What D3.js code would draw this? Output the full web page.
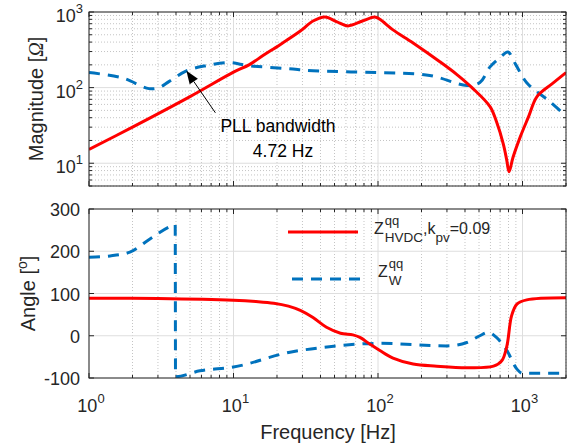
<!DOCTYPE html>
<html>
<head>
<meta charset="utf-8">
<script src="https://cdn.jsdelivr.net/npm/d3@7"></script>
<style>
  body { margin: 0; background: #fff; }
  text { font-family: "Liberation Sans", Arial, sans-serif; fill: #262626; }
</style>
</head>
<body>
<svg id="chart" width="568" height="447"></svg>
<script>
// ---- data ----
// magnitude, HVDC (red)
const magFreqHvdc = [1, 2, 5, 10, 12.8, 16, 21, 29, 35.5, 43, 52, 62, 78, 95, 103, 127, 175, 268, 350, 447, 596, 662, 736, 778, 807, 860, 962, 1100, 1260, 1600, 2000];
const magHvdc     = [15.2, 30, 76, 160, 200, 265, 370, 560, 760, 860, 740, 655, 760, 860, 800, 580, 390, 220, 150, 100, 56, 35, 18, 11, 7.7, 12, 22, 41, 76, 112, 158];
// magnitude, wind (blue dashed)
const magFreqW = [1, 1.69, 2.6, 3.05, 3.57, 4.72, 6.45, 9.3, 12.8, 24, 35.5, 98, 228, 412, 507, 596, 700, 793, 900, 1070, 1550, 2000];
const magW     = [158, 135, 97, 100, 120, 167, 195, 214, 195, 178, 167, 158, 145, 107, 117, 188, 250, 295, 200, 116, 65, 42];
// angle, HVDC (red)
const angFreqHvdc = [1, 3, 10, 14.3, 19, 24, 29, 35.5, 44, 55, 67, 75, 88, 103, 127, 175, 255, 412, 630, 720, 780, 840, 915, 1070, 2000];
const angHvdc     = [89, 88, 84, 81, 77, 70, 60, 43, 20, 6, 2, -4, -20, -35, -53, -67, -72, -75.6, -72, -59, -24, 47, 75, 85, 90];
// angle, wind (blue dashed)
const angFreqW = [1, 1.4, 1.92, 2.64, 3.73, 3.95, 3.97, 5.85, 10, 24.6, 46, 103, 300, 412, 507, 575, 660, 780, 915, 1000, 2000];
const angW     = [186, 189, 198, 229, 260, 263, -97, -83, -74, -39, -26, -18, -24, -16, 0, 8, -4, -35, -79, -89, -89];

const xTickExp = [0, 1, 2, 3];
const magTickExp = [1, 2, 3];
const angTicks = [-100, 0, 100, 200, 300];
const pllFreq = 4.72, pllMag = 167;

// ---- layout ----
const svg = d3.select("#chart");
const left = 89, right = 566;
const top1 = 12, bot1 = 186, top2 = 209, bot2 = 378;
const red = "#ff0000", blue = "#0072bd";

const x = d3.scaleLog().domain([1, 2000]).range([left, right]);
const yMag = d3.scaleLog().domain([5, 1000]).range([bot1, top1]);
const yAng = d3.scaleLinear().domain([-100, 300]).range([bot2, top2]);

const xMajor = xTickExp.map(e => Math.pow(10, e));
const xMinor = [];
[1, 10, 100, 1000].forEach(d => { for (let m = 2; m <= 9; m++) if (d * m <= 2000) xMinor.push(d * m); });
const magMinor = [];
[1, 10, 100].forEach(d => { for (let m = 2; m <= 9; m++) if (d * m >= 5) magMinor.push(d * m); });

function drawPanel(y, top, bot, yMajorVals, yMinorVals, id) {
  const g = svg.append("g");
  // minor grid
  g.selectAll(null).data(xMinor).join("line")
    .attr("x1", d => x(d)).attr("x2", d => x(d)).attr("y1", top).attr("y2", bot)
    .attr("stroke", "#c4c4c4").attr("stroke-dasharray", "1,2");
  g.selectAll(null).data(yMinorVals).join("line")
    .attr("x1", left).attr("x2", right).attr("y1", d => y(d)).attr("y2", d => y(d))
    .attr("stroke", "#c4c4c4").attr("stroke-dasharray", "1,2");
  // major grid
  g.selectAll(null).data(xMajor).join("line")
    .attr("x1", d => x(d)).attr("x2", d => x(d)).attr("y1", top).attr("y2", bot)
    .attr("stroke", "#dedede");
  g.selectAll(null).data(yMajorVals).join("line")
    .attr("x1", left).attr("x2", right).attr("y1", d => y(d)).attr("y2", d => y(d))
    .attr("stroke", "#dedede");
  // ticks, inward, all four sides
  const tk = g.append("g").attr("stroke", "#262626");
  xMajor.forEach(d => {
    tk.append("line").attr("x1", x(d)).attr("x2", x(d)).attr("y1", bot).attr("y2", bot - 5);
    tk.append("line").attr("x1", x(d)).attr("x2", x(d)).attr("y1", top).attr("y2", top + 5);
  });
  xMinor.forEach(d => {
    tk.append("line").attr("x1", x(d)).attr("x2", x(d)).attr("y1", bot).attr("y2", bot - 3);
    tk.append("line").attr("x1", x(d)).attr("x2", x(d)).attr("y1", top).attr("y2", top + 3);
  });
  yMajorVals.forEach(d => {
    tk.append("line").attr("x1", left).attr("x2", left + 5).attr("y1", y(d)).attr("y2", y(d));
    tk.append("line").attr("x1", right).attr("x2", right - 5).attr("y1", y(d)).attr("y2", y(d));
  });
  yMinorVals.forEach(d => {
    tk.append("line").attr("x1", left).attr("x2", left + 3).attr("y1", y(d)).attr("y2", y(d));
    tk.append("line").attr("x1", right).attr("x2", right - 3).attr("y1", y(d)).attr("y2", y(d));
  });
  // clip for curves
  svg.append("clipPath").attr("id", id).append("rect")
    .attr("x", left).attr("y", top).attr("width", right - left).attr("height", bot - top);
  return g;
}

function drawBox(top, bot) {
  svg.append("rect").attr("x", left).attr("y", top).attr("width", right - left).attr("height", bot - top)
    .attr("fill", "none").attr("stroke", "#262626").attr("stroke-width", 1);
}

function curve(freqs, vals, y, color, dashed, clip, crv) {
  const pts = freqs.map((f, i) => [x(f), y(vals[i])]);
  svg.append("path")
    .attr("clip-path", `url(#${clip})`)
    .attr("d", d3.line().curve(crv || d3.curveCatmullRom.alpha(0.5))(pts))
    .attr("fill", "none").attr("stroke", color).attr("stroke-width", 3)
    .attr("stroke-dasharray", dashed ? "11,8" : null);
}

// ---- top: magnitude ----
drawPanel(yMag, top1, bot1, magTickExp.map(e => Math.pow(10, e)), magMinor, "clipMag");
curve(magFreqW, magW, yMag, blue, true, "clipMag");
curve(magFreqHvdc, magHvdc, yMag, red, false, "clipMag");
drawBox(top1, bot1);

magTickExp.forEach(e => {
  const t = svg.append("text").attr("x", 83).attr("y", yMag(Math.pow(10, e)) + 10)
    .attr("text-anchor", "end").style("font-size", "18px");
  t.append("tspan").text("10");
  t.append("tspan").attr("dy", -9).style("font-size", "13px").text(e);
});

const ml = svg.append("text").attr("transform", `translate(43,${(top1 + bot1) / 2}) rotate(-90)`)
  .attr("text-anchor", "middle").style("font-size", "20px");
ml.append("tspan").text("Magnitude [");
ml.append("tspan").style("font-family", "'Liberation Serif', serif").style("font-style", "italic").text("Ω");
ml.append("tspan").text("]");

// PLL annotation
const tipX = x(pllFreq), tipY = yMag(pllMag);
const tailX = tipX + 29, tailY = tipY + 42;
const ang = Math.atan2(tipY - tailY, tipX - tailX);
const hl = 13, hw = 5;
const bx = tipX - hl * Math.cos(ang), by = tipY - hl * Math.sin(ang);
svg.append("line").attr("x1", tailX).attr("y1", tailY).attr("x2", bx).attr("y2", by)
  .attr("stroke", "#000").attr("stroke-width", 1);
svg.append("path")
  .attr("d", `M${tipX},${tipY}L${bx + hw * Math.sin(ang)},${by - hw * Math.cos(ang)}L${bx - hw * Math.sin(ang)},${by + hw * Math.cos(ang)}Z`)
  .attr("fill", "#000");
svg.append("text").attr("x", 278).attr("y", 132).attr("text-anchor", "middle")
  .style("font-size", "17.5px").style("fill", "#000").text("PLL bandwidth");
svg.append("text").attr("x", 283).attr("y", 157).attr("text-anchor", "middle")
  .style("font-size", "17.5px").style("fill", "#000").text(pllFreq + " Hz");

// ---- bottom: angle ----
drawPanel(yAng, top2, bot2, angTicks, [], "clipAng");
curve(angFreqW, angW, yAng, blue, true, "clipAng", d3.curveMonotoneX);
curve(angFreqHvdc, angHvdc, yAng, red, false, "clipAng");
drawBox(top2, bot2);

angTicks.forEach(v => {
  svg.append("text").attr("x", 80).attr("y", yAng(v) + 7).attr("text-anchor", "end")
    .style("font-size", "18px").text(v);
});
xTickExp.forEach(e => {
  const t = svg.append("text").attr("x", x(Math.pow(10, e)) + 2).attr("y", 412)
    .attr("text-anchor", "middle").style("font-size", "18px");
  t.append("tspan").text("10");
  t.append("tspan").attr("dy", -9).style("font-size", "13px").text(e);
});

const al = svg.append("text").attr("transform", `translate(35,${(top2 + bot2) / 2}) rotate(-90)`)
  .attr("text-anchor", "middle").style("font-size", "20px");
al.append("tspan").text("Angle [");
al.append("tspan").attr("dy", -8).style("font-size", "14px").text("o");
al.append("tspan").attr("dy", 8).text("]");

svg.append("text").attr("x", 328).attr("y", 439).attr("text-anchor", "middle")
  .style("font-size", "20px").text("Frequency [Hz]");

// ---- legend ----
function texPiece(x0, y0, str, size, dy) {
  const t = svg.append("text").attr("x", x0).attr("y", y0 + dy).style("font-size", size + "px").text(str);
  return t.node().getComputedTextLength();
}
svg.append("line").attr("x1", 288).attr("x2", 358).attr("y1", 232).attr("y2", 232)
  .attr("stroke", red).attr("stroke-width", 3);
svg.append("line").attr("x1", 292).attr("x2", 362).attr("y1", 279).attr("y2", 279)
  .attr("stroke", blue).attr("stroke-width", 3).attr("stroke-dasharray", "11,8");

let lx = 374, ly = 234;
lx += texPiece(lx, ly, "Z", 16, 0) + 1;
const wq = texPiece(lx, ly, "qq", 13, -9);
const wh = texPiece(lx, ly, "HVDC", 13.5, 8);
lx += Math.max(wq, wh);
lx += texPiece(lx, ly, ",k", 16, 0);
lx += texPiece(lx, ly, "pv", 13.5, 8);
texPiece(lx, ly, "=0.09", 16, 0);

lx = 378; ly = 277;
lx += texPiece(lx, ly, "Z", 16, 0) + 1;
texPiece(lx, ly, "qq", 13, -9);
texPiece(lx, ly, "W", 13.5, 8);
</script>
</body>
</html>
